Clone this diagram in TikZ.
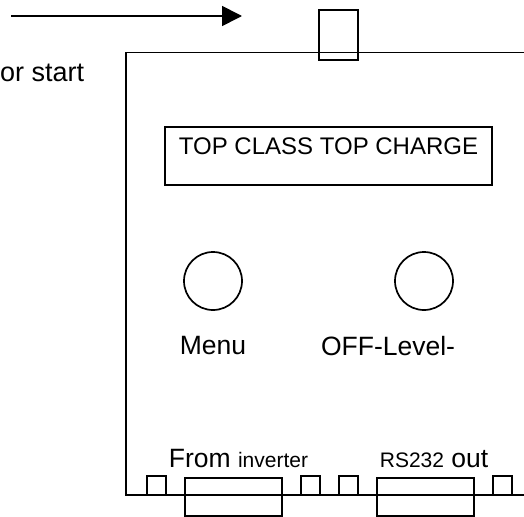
\documentclass[tikz,border=0pt]{standalone}
\usepackage{fontspec}
\setmainfont{Liberation Sans}
\usetikzlibrary{arrows.meta,positioning}
\newcommand{\bigtxt}{\fontsize{26.5}{31}\selectfont}
\newcommand{\smalltxt}{\fontsize{21}{25}\selectfont}

\begin{document}
\begin{tikzpicture}[
  x=1pt, y=-1pt,
  line width=1.7pt,
  panel/.style={draw, minimum width=327pt, minimum height=58pt, inner sep=0pt},
  knob/.style={draw, circle, minimum size=58pt, inner sep=0pt},
  port/.style={draw, minimum width=19pt, minimum height=19pt, inner sep=0pt},
  plug/.style={draw, minimum width=97pt, minimum height=38pt, inner sep=0pt},
  jackbox/.style={draw, minimum width=39pt, minimum height=50pt, inner sep=0pt},
  lbl/.style={font=\bigtxt, inner sep=0pt}
]
  \useasboundingbox (0,0) rectangle (524,516);

  % housing, open on the right
  \draw (540,52.5) -- (126,52.5) -- (126,495) -- (540,495);

  % start arrow
  \coordinate (start) at (11,16);
  \coordinate (tip) at (242,16);
  \draw[-{Triangle[length=20pt,width=20pt]}] (start) -- (tip);
  \node[lbl, font=\fontsize{27}{32}\selectfont, anchor=base east] (hint) at (85,82) {or start};

  \node[jackbox] (jack) at (338.5,35) {};

  % display
  \node[panel] (display) at (328.5,156) {};
  \node[lbl, font=\fontsize{24}{28}\selectfont, anchor=base] (title) at (328.5,154) {TOP CLASS TOP CHARGE};

  % buttons
  \node[knob] (menuknob) at (213,281) {};
  \node[knob] (offknob) at (424,281) {};
  \node[lbl, below=25pt of menuknob] (menu) {Menu};
  \node[lbl, below=25pt of offknob, xshift=-36pt] (off) {OFF-Level-};

  % connectors at the bottom
  \node[port, anchor=south west] (p1) at (146,495.5) {};
  \node[plug, anchor=north west] (inv) at (184,477) {};
  \node[port, anchor=south west] (p2) at (300,495.5) {};
  \node[port, anchor=south west] (p3) at (338,495.5) {};
  \node[plug, anchor=north west] (rs) at (376,477) {};
  \node[port, anchor=south west] (p4) at (492,495.5) {};

  \node[lbl, anchor=base west] (from) at (168,467) {From {\smalltxt inverter}};
  \node[lbl, anchor=base west] (out) at (379,467) {{\smalltxt RS232} out};
\end{tikzpicture}
\end{document}
